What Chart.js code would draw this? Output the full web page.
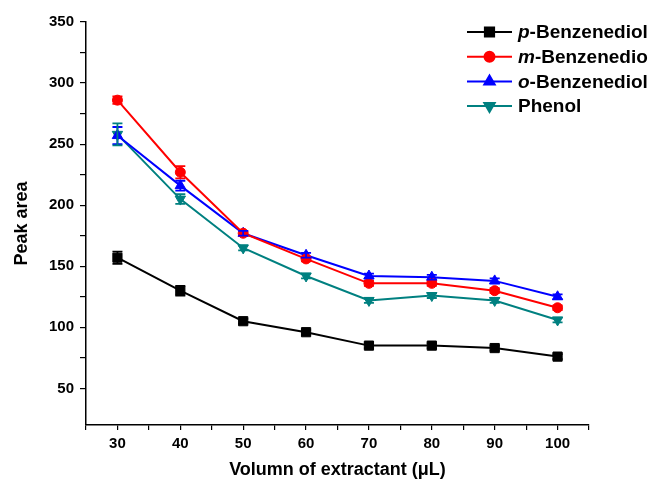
<!DOCTYPE html>
<html>
<head>
<meta charset="utf-8">
<script src="https://cdn.jsdelivr.net/npm/chart.js@4.4.1/dist/chart.umd.min.js"></script>
<style>
    html, body { margin: 0; padding: 0; background: #ffffff; }
    #wrap { width: 648px; height: 491px; position: relative; }
</style>
</head>
<body>
<div id="wrap"><canvas id="chart"></canvas></div>
<script>
// extractant volume (µL)
const volumes = [30, 40, 50, 60, 70, 80, 90, 100];

// peak areas
const pBenzenediol = [157, 130, 105, 96, 85, 85, 83, 76];
const mBenzenediol = [286, 227, 177, 156, 136, 136, 130, 116];
const oBenzenediol = [257, 216, 177, 159, 142, 141, 138, 125];
const phenol = [258, 205, 165, 142, 122, 126, 122, 106];

// error bar half-heights
const pErr = [5, 4, 2, 2, 2, 2, 2, 2];
const mErr = [3, 5, 2, 2, 2, 2, 2, 2];
const oErr = [7, 4, 2, 2, 2, 2, 2, 2];
const phenolErr = [9, 4, 2, 2, 2, 2, 2, 2];

const yTickValues = [50, 75, 100, 125, 150, 175, 200, 225, 250, 275, 300, 325, 350];
const xTickValues = [25, 30, 35, 40, 45, 50, 55, 60, 65, 70, 75, 80, 85, 90, 95, 100, 105];

const FONT = "'Liberation Sans', Arial, sans-serif";

const SERIES = [
    { prefix: 'p', label: '-Benzenediol', values: pBenzenediol, err: pErr, color: '#000000', style: 'rect', radius: 6.5, rotation: 0 },
    { prefix: 'm', label: '-Benzenediol', values: mBenzenediol, err: mErr, color: '#ff0000', style: 'circle', radius: 5, rotation: 0 },
    { prefix: 'o', label: '-Benzenediol', values: oBenzenediol, err: oErr, color: '#0000ff', style: 'triangle', radius: 6, rotation: 0 },
    { prefix: '', label: 'Phenol', values: phenol, err: phenolErr, color: '#008080', style: 'triangle', radius: 6, rotation: 180 }
];

const datasets = SERIES.map(s => ({
    label: s.prefix + s.label,
    data: volumes.map((v, i) => ({ x: v, y: s.values[i] })),
    errors: s.err,
    borderColor: s.color,
    backgroundColor: s.color,
    borderWidth: 2,
    pointStyle: s.style,
    pointRotation: s.rotation,
    pointRadius: s.radius,
    pointBorderWidth: 1,
    tension: 0
}));

const errorBars = {
    id: 'errorBars',
    afterDatasetsDraw(chart) {
        const { ctx } = chart;
        const yScale = chart.scales.y;
        chart.data.datasets.forEach((ds, di) => {
            const meta = chart.getDatasetMeta(di);
            ctx.save();
            ctx.strokeStyle = ds.borderColor;
            ctx.lineWidth = 1.8;
            meta.data.forEach((pt, i) => {
                const e = ds.errors[i];
                const val = ds.data[i].y;
                const top = yScale.getPixelForValue(val + e);
                const bot = yScale.getPixelForValue(val - e);
                const x = pt.x;
                ctx.beginPath();
                ctx.moveTo(x, top); ctx.lineTo(x, bot);
                ctx.moveTo(x - 5, top); ctx.lineTo(x + 5, top);
                ctx.moveTo(x - 5, bot); ctx.lineTo(x + 5, bot);
                ctx.stroke();
            });
            ctx.restore();
        });
    }
};

const customLegend = {
    id: 'customLegend',
    afterDraw(chart) {
        const { ctx } = chart;
        const x0 = 467, x1 = 512, startY = 32, step = 24.7;
        ctx.save();
        SERIES.forEach((s, i) => {
            const y = startY + i * step;
            ctx.strokeStyle = s.color;
            ctx.lineWidth = 2;
            ctx.beginPath();
            ctx.moveTo(x0, y); ctx.lineTo(x1, y);
            ctx.stroke();
            ctx.fillStyle = s.color;
            Chart.helpers.drawPoint(ctx, { pointStyle: s.style, rotation: s.rotation, radius: s.radius, borderWidth: 1 }, (x0 + x1) / 2, y);
            ctx.fillStyle = '#000000';
            ctx.textBaseline = 'middle';
            ctx.textAlign = 'left';
            let tx = 518;
            if (s.prefix) {
                ctx.font = `italic bold 19px ${FONT}`;
                ctx.fillText(s.prefix, tx, y + 1);
                tx += ctx.measureText(s.prefix).width;
            }
            ctx.font = `bold 19px ${FONT}`;
            ctx.fillText(s.label, tx, y + 1);
        });
        ctx.restore();
    }
};

new Chart(document.getElementById('chart'), {
    type: 'line',
    data: { datasets },
    plugins: [errorBars, customLegend],
    options: {
        responsive: true,
        maintainAspectRatio: false,
        animation: false,
        layout: { padding: { top: 22, right: 59, left: 0, bottom: 0 } },
        plugins: {
            legend: { display: false },
            tooltip: { enabled: false }
        },
        scales: {
            x: {
                type: 'linear',
                min: 25,
                max: 105,
                afterBuildTicks: scale => { scale.ticks = xTickValues.map(v => ({ value: v })); },
                afterFit: scale => { scale.height = 66; },
                border: { display: true, color: '#000000', width: 1.5 },
                grid: { display: true, drawOnChartArea: false, drawTicks: true, tickLength: 5, color: '#000000', lineWidth: 1.2 },
                ticks: {
                    autoSkip: false,
                    maxRotation: 0,
                    padding: 5,
                    color: '#000000',
                    font: { family: FONT, size: 15, weight: 'bold' },
                    callback: v => (v % 10 === 0 && v >= 30 && v <= 100) ? String(v) : ''
                },
                title: {
                    display: true,
                    text: 'Volumn of extractant (μL)',
                    color: '#000000',
                    font: { family: FONT, size: 18, weight: 'bold' },
                    padding: { top: 6, bottom: 10 }
                }
            },
            y: {
                min: 20,
                max: 350,
                afterBuildTicks: scale => { scale.ticks = yTickValues.map(v => ({ value: v })); },
                afterFit: scale => { scale.width = 86; },
                border: { display: true, color: '#000000', width: 1.5 },
                grid: { display: true, drawOnChartArea: false, drawTicks: true, tickLength: 6, color: '#000000', lineWidth: 1.2 },
                ticks: {
                    autoSkip: false,
                    padding: 6,
                    color: '#000000',
                    font: { family: FONT, size: 15, weight: 'bold' },
                    callback: v => (v % 50 === 0) ? String(v) : ''
                },
                title: {
                    display: true,
                    text: 'Peak area',
                    color: '#000000',
                    font: { family: FONT, size: 18, weight: 'bold' },
                    padding: { top: 11, bottom: 8 }
                }
            }
        }
    }
});
</script>
</body>
</html>
